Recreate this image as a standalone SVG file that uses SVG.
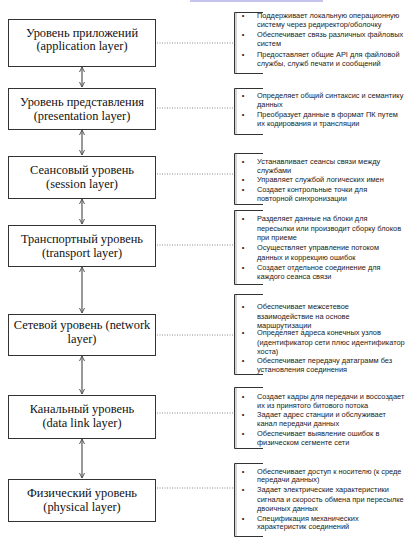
<svg xmlns="http://www.w3.org/2000/svg" width="410" height="538" viewBox="0 0 410 538">
<defs>
<marker id="ah" markerWidth="6" markerHeight="6" refX="5" refY="3" orient="auto-start-reverse" markerUnits="userSpaceOnUse">
<path d="M0,0.5 L5,3 L0,5.5" fill="none" stroke="#555" stroke-width="1"/>
</marker>
</defs>
<style>
.box{fill:#fff;stroke:#333;stroke-width:1}
.bt{font-family:"Liberation Serif","Times New Roman",serif;font-size:12.4px;fill:#111;text-anchor:middle}
.arr{stroke:#555;stroke-width:1.2;fill:none}
.dot{stroke:#888;stroke-width:1;stroke-dasharray:1 1.5;fill:none}
.br{fill:none;stroke:#333;stroke-width:1}
.brs{fill:none;stroke:#aaa;stroke-width:1}
.t{font-family:"Liberation Sans",Arial,sans-serif;font-size:7.4px;fill:#222}
.b{font-family:"Liberation Sans",Arial,sans-serif;font-size:7.4px;fill:#222;text-anchor:middle}
</style>
<rect width="410" height="538" fill="#fff"/>
<line x1="190" y1="1" x2="323" y2="1" stroke="#8888dd" stroke-width="1"/>

<g id="connectors">
<line class="arr" x1="82" y1="67" x2="82" y2="87" marker-start="url(#ah)" marker-end="url(#ah)"/>
<line class="arr" x1="82" y1="130" x2="82" y2="155" marker-start="url(#ah)" marker-end="url(#ah)"/>
<line class="arr" x1="82" y1="199" x2="82" y2="224" marker-start="url(#ah)" marker-end="url(#ah)"/>
<line class="arr" x1="82" y1="267" x2="82" y2="313" marker-start="url(#ah)" marker-end="url(#ah)"/>
<line class="arr" x1="82" y1="356" x2="82" y2="394" marker-start="url(#ah)" marker-end="url(#ah)"/>
<line class="arr" x1="82" y1="439" x2="82" y2="478" marker-start="url(#ah)" marker-end="url(#ah)"/>
<line class="dot" x1="157" y1="43" x2="233" y2="43"/>
<line class="dot" x1="157" y1="108" x2="233" y2="108"/>
<line class="dot" x1="157" y1="174" x2="233" y2="174"/>
<line class="dot" x1="157" y1="245" x2="233" y2="245"/>
<line class="dot" x1="157" y1="335" x2="233" y2="335"/>
<line class="dot" x1="157" y1="413" x2="233" y2="413"/>
<line class="dot" x1="157" y1="488" x2="233" y2="488"/>
</g>

<g id="n1">
<rect class="box" x="8.5" y="19.5" width="147" height="47"/>
<text class="bt" x="82" y="36.5">Уровень приложений</text>
<text class="bt" x="82" y="50">(application layer)</text>
</g>
<g id="n2">
<rect class="box" x="8.5" y="88.5" width="147" height="41"/>
<text class="bt" x="82" y="106">Уровень представления</text>
<text class="bt" x="82" y="120">(presentation layer)</text>
</g>
<g id="n3">
<rect class="box" x="8.5" y="156.5" width="147" height="42"/>
<text class="bt" x="82" y="174">Сеансовый уровень</text>
<text class="bt" x="82" y="188">(session layer)</text>
</g>
<g id="n4">
<rect class="box" x="8.5" y="225.5" width="147" height="41"/>
<text class="bt" x="82" y="243">Транспортный уровень</text>
<text class="bt" x="82" y="257">(transport layer)</text>
</g>
<g id="n5">
<rect class="box" x="8.5" y="314.5" width="147" height="41"/>
<text class="bt" x="82" y="329">Сетевой уровень (network</text>
<text class="bt" x="82" y="343">layer)</text>
</g>
<g id="n6">
<rect class="box" x="8.5" y="395.5" width="147" height="43"/>
<text class="bt" x="82" y="413">Канальный уровень</text>
<text class="bt" x="82" y="427">(data link layer)</text>
</g>
<g id="n7">
<rect class="box" x="8.5" y="479.5" width="147" height="42"/>
<text class="bt" x="82" y="497">Физический уровень</text>
<text class="bt" x="82" y="511">(physical layer)</text>
</g>

<g id="d1">
<path class="brs" d="M236,13 V73"/>
<path class="br" d="M263,12.5 H234.5 V73.5 H263"/>
<text class="b" x="243" y="17.5">•</text><text class="t" x="257" y="17.5">Поддерживает локальную операционную</text>
<text class="t" x="257" y="26.5">систему через редиректор/оболочку</text>
<text class="b" x="243" y="36.5">•</text><text class="t" x="257" y="36.5">Обеспечивает связь различных файловых</text>
<text class="t" x="257" y="45.5">систем</text>
<text class="b" x="243" y="56.5">•</text><text class="t" x="257" y="56.5">Предоставляет общие API для файловой</text>
<text class="t" x="257" y="65.5">службы, служб печати и сообщений</text>
</g>
<g id="d2">
<path class="brs" d="M236,89 V134"/>
<path class="br" d="M263,88.5 H234.5 V134.5 H263"/>
<text class="b" x="243" y="97.5">•</text><text class="t" x="257" y="97.5">Определяет общий синтаксис и семантику</text>
<text class="t" x="257" y="106.5">данных</text>
<text class="b" x="243" y="116.5">•</text><text class="t" x="257" y="116.5">Преобразует данные в формат ПК путем</text>
<text class="t" x="257" y="125.5">их кодирования и трансляции</text>
</g>
<g id="d3">
<path class="brs" d="M236,154 V204"/>
<path class="br" d="M263,153.5 H234.5 V204.5 H263"/>
<text class="b" x="243" y="163.5">•</text><text class="t" x="257" y="163.5">Устанавливает сеансы связи между</text>
<text class="t" x="257" y="172.5">службами</text>
<text class="b" x="243" y="181.5">•</text><text class="t" x="257" y="181.5">Управляет службой логических имен</text>
<text class="b" x="243" y="191.5">•</text><text class="t" x="257" y="191.5">Создает контрольные точки для</text>
<text class="t" x="257" y="200.5">повторной синхронизации</text>
</g>
<g id="d4">
<path class="brs" d="M236,211 V284"/>
<path class="br" d="M263,210.5 H234.5 V284.5 H263"/>
<text class="b" x="243" y="220.5">•</text><text class="t" x="257" y="220.5">Разделяет данные на блоки для</text>
<text class="t" x="257" y="230.5">пересылки или производит сборку блоков</text>
<text class="t" x="257" y="239.5">при приеме</text>
<text class="b" x="243" y="249.5">•</text><text class="t" x="257" y="249.5">Осуществляет управление потоком</text>
<text class="t" x="257" y="259.5">данных и коррекцию ошибок</text>
<text class="b" x="243" y="269.5">•</text><text class="t" x="257" y="269.5">Создает отдельное соединение для</text>
<text class="t" x="257" y="278.5">каждого сеанса связи</text>
</g>
<g id="d5">
<path class="brs" d="M236,295 V374"/>
<path class="br" d="M263,294.5 H234.5 V374.5 H263"/>
<text class="b" x="243" y="308.5">•</text><text class="t" x="257" y="308.5">Обеспечивает межсетевое</text>
<text class="t" x="257" y="318.5">взаимодействие на основе</text>
<text class="t" x="257" y="327.5">маршрутизации</text>
<text class="b" x="243" y="335">•</text><text class="t" x="257" y="335">Определяет адреса конечных узлов</text>
<text class="t" x="257" y="344.5">(идентификатор сети плюс идентификатор</text>
<text class="t" x="257" y="353.5">хоста)</text>
<text class="b" x="243" y="362.5">•</text><text class="t" x="257" y="362.5">Обеспечивает передачу датаграмм без</text>
<text class="t" x="257" y="371.5">установления соединения</text>
</g>
<g id="d6">
<path class="brs" d="M236,388 V448"/>
<path class="br" d="M263,387.5 H234.5 V448.5 H263"/>
<text class="b" x="243" y="398.5">•</text><text class="t" x="257" y="398.5">Создает кадры для передачи и воссоздает</text>
<text class="t" x="257" y="407.5">их из принятого битового потока</text>
<text class="b" x="243" y="416.5">•</text><text class="t" x="257" y="416.5">Задает адрес станции и обслуживает</text>
<text class="t" x="257" y="425.5">канал передачи данных</text>
<text class="b" x="243" y="435.5">•</text><text class="t" x="257" y="435.5">Обеспечивает выявление ошибок в</text>
<text class="t" x="257" y="444.5">физическом сегменте сети</text>
</g>
<g id="d7">
<path class="brs" d="M236,464 V536"/>
<path class="br" d="M263,463.5 H234.5 V536.5 H263"/>
<text class="b" x="243" y="473.5">•</text><text class="t" x="257" y="473.5">Обеспечивает доступ к носителю (к среде</text>
<text class="t" x="257" y="481.5">передачи данных)</text>
<text class="b" x="243" y="491.5">•</text><text class="t" x="257" y="491.5">Задает электрические характеристики</text>
<text class="t" x="257" y="501.5">сигнала и скорость обмена при пересылке</text>
<text class="t" x="257" y="510.5">двоичных данных</text>
<text class="b" x="243" y="520.5">•</text><text class="t" x="257" y="520.5">Спецификация механических</text>
<text class="t" x="257" y="528.5">характеристик соединений</text>
</g>
</svg>
